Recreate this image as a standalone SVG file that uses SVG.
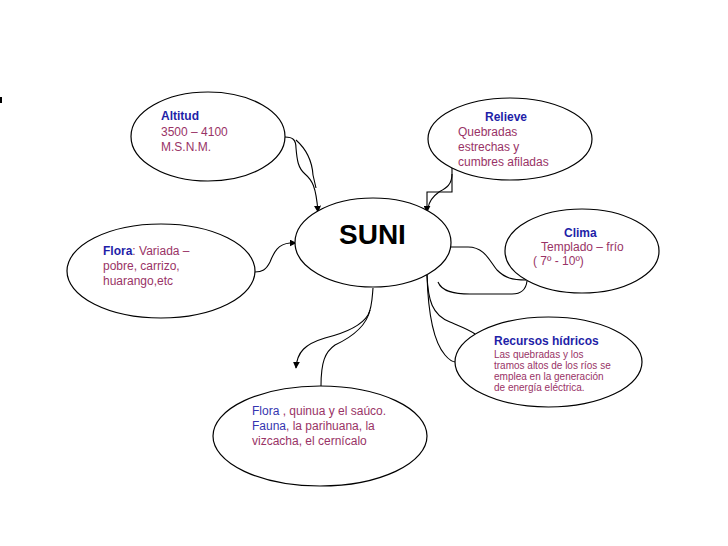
<svg xmlns="http://www.w3.org/2000/svg" width="728" height="546" viewBox="0 0 728 546">
<style>
.node{fill:#fff;stroke:#000;stroke-width:1.2}
.c{fill:none;stroke:#000;stroke-width:1.1}
text{font-family:"Liberation Sans",Arial,sans-serif;font-size:12px;fill:#993366}
.h{fill:#1F1FA8;font-weight:bold}
.b{fill:#3535B0}
.s{font-size:10px}
</style>
<defs>
<marker id="arr" viewBox="0 0 10 10" refX="9" refY="5" markerWidth="7" markerHeight="7" markerUnits="userSpaceOnUse" orient="auto">
<path d="M0,0 L10,5 L0,10 z" fill="#000"/>
</marker>
</defs>
<rect x="0" y="97" width="2" height="6" fill="#000"/>
<g id="connectors">
<path class="c" d="M285,137 C293,137 296,140 296,148 C297,160 298,168 305,174 C312,180 316,186 318,212" marker-end="url(#arr)"/>
<path class="c" d="M296,140 C305,148 312,160 313,175 L316,188"/>
<path class="c" d="M452,168 L452,192 L427,192 L427,212" marker-end="url(#arr)"/>
<path class="c" d="M452,174 C452,185 446,188 439,192 C432,197 429,202 428,208"/>
<path class="c" d="M449,247 L468,247 C485,247 490,262 497,270 C505,278 512,280 526,280"/>
<path class="c" d="M438,282 C442,292 455,294 470,294 L512,294 C521,294 526,290 527,281"/>
<path class="c" d="M427,275 C428,300 432,315 450,322 C462,327 470,330 475,334"/>
<path class="c" d="M427,275 C428,310 432,340 445,355 C450,361 453,362 456,362"/>
<path class="c" d="M373,288 C372,300 372,308 368,315 C362,325 345,333 325,338 C305,344 297,352 296,368" marker-end="url(#arr)"/>
<path class="c" d="M370,310 C366,328 350,338 335,345 C325,352 321,362 321,386"/>
<path class="c" d="M255,272 C262,272 266,270 270,262 C274,252 278,244 290,243 L296,243" marker-end="url(#arr)"/>
</g>
<g id="altitud">
<ellipse class="node" cx="208" cy="136.5" rx="77" ry="44.5"/>
<text x="161" y="120" class="h">Altitud</text>
<text x="161" y="135.5">3500 – 4100</text>
<text x="161" y="151">M.S.N.M.</text>
</g>
<g id="relieve">
<ellipse class="node" cx="510" cy="139" rx="82" ry="41"/>
<text x="485" y="121" class="h">Relieve</text>
<text x="458" y="136">Quebradas</text>
<text x="458" y="151">estrechas y</text>
<text x="458" y="166">cumbres afiladas</text>
</g>
<g id="suni">
<ellipse class="node" cx="373" cy="242.5" rx="78" ry="44.5"/>
<text x="339" y="244" style="font-size:28px;font-weight:bold;fill:#000">SUNI</text>
</g>
<g id="clima">
<ellipse class="node" cx="582" cy="251" rx="77" ry="42"/>
<text x="564" y="237" class="h">Clima</text>
<text x="541" y="251">Templado – frío</text>
<text x="533" y="265">( 7º - 10º)</text>
</g>
<g id="flora">
<ellipse class="node" cx="161" cy="271" rx="94" ry="47"/>
<text x="103" y="255"><tspan class="h">Flora</tspan>: Variada –</text>
<text x="103" y="270">pobre, carrizo,</text>
<text x="103" y="285">huarango,etc</text>
</g>
<g id="recursos">
<ellipse class="node" cx="548.5" cy="362" rx="93.5" ry="45"/>
<text x="494" y="345" class="h">Recursos hídricos</text>
<text x="494" y="358" class="s">Las quebradas  y los</text>
<text x="494" y="369" class="s">tramos altos de los ríos se</text>
<text x="494" y="380" class="s">emplea en la generación</text>
<text x="494" y="391" class="s">de energía eléctrica.</text>
</g>
<g id="florafauna">
<ellipse class="node" cx="320" cy="436" rx="107" ry="50"/>
<text x="252" y="415"><tspan class="b">Flora</tspan> , quinua y el saúco.</text>
<text x="252" y="430"><tspan class="b">Fauna</tspan>, la parihuana, la</text>
<text x="252" y="445">vizcacha, el cernícalo</text>
</g>
</svg>
